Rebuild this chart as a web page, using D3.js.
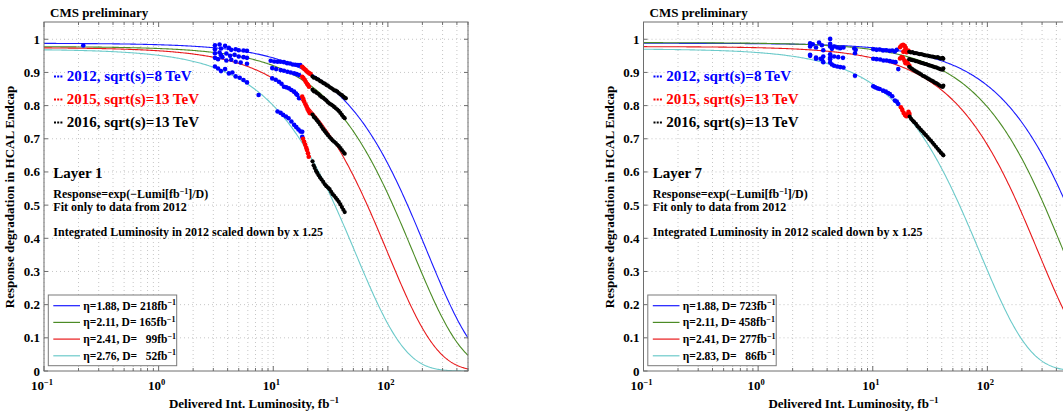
<!DOCTYPE html>
<html><head><meta charset="utf-8">
<script src="https://cdn.jsdelivr.net/npm/d3@7"></script>
<style>
body{margin:0;background:#fff}
svg{display:block}
text{font-family:"Liberation Serif","Times New Roman",serif;font-weight:bold;white-space:pre}
</style>
</head><body>
<svg id="chart" width="1063" height="414"></svg>
<script>
// ---------------- data ----------------
const xTicks = [0.1, 1, 10, 100];
const xTickExponents = ["\u22121", "0", "1", "2"];
const yTicks = [0, 0.1, 0.2, 0.3, 0.4, 0.5, 0.6, 0.7, 0.8, 0.9, 1];
const yTickLabels = ["0", "0.1", "0.2", "0.3", "0.4", "0.5", "0.6", "0.7", "0.8", "0.9", "1"];
const xDomain = [0.1, 500];
const yDomain = [0, 1.052];

const yearLabels = ["2012, sqrt(s)=8 TeV", "2015, sqrt(s)=13 TeV", "2016, sqrt(s)=13 TeV"];

const layer1Eta = ["1.88", "2.11", "2.41", "2.76"];
const layer1D = [218, 165, 99, 52];
const layer1Norm = [0.988, 0.978, 0.975, 0.970];

const layer7Eta = ["1.88", "2.11", "2.41", "2.83"];
const layer7D = [723, 458, 277, 86];
const layer7Norm = [0.988, 0.990, 0.978, 0.971];

// Layer 1 points [luminosity, response]
const layer1_2012 = [
  [0.22,0.981],
  [3.1,0.982],[3.1,0.970],[3.4,0.984],[3.5,0.972],[3.8,0.980],[4.1,0.974],[4.3,0.968],[4.7,0.970],[5.0,0.967],[5.5,0.966],[5.9,0.965],
  [9.5,0.935],[10.2,0.933],[10.9,0.932],[11.6,0.932],[12.4,0.931],[13.2,0.928],[14.0,0.927],[14.8,0.924],[15.6,0.923],[16.4,0.922],[17.2,0.922],
  [3.1,0.958],[3.4,0.960],[3.5,0.952],[3.9,0.957],[4.2,0.950],[4.6,0.953],[5.0,0.948],[5.5,0.946],[5.9,0.944],
  [9.8,0.913],[10.6,0.910],[11.6,0.907],[12.4,0.905],[13.3,0.902],[14.2,0.900],[15.2,0.897],[16.0,0.895],[16.8,0.892],
  [3.1,0.944],[3.3,0.940],[3.6,0.946],[3.9,0.936],[4.3,0.938],[4.7,0.932],[5.2,0.930],[5.9,0.926],
  [9.8,0.882],[10.5,0.878],[11.2,0.872],[11.8,0.866],[12.4,0.857],[13.0,0.855],[13.7,0.852],[14.4,0.847],[15.2,0.842],[15.8,0.836],[16.2,0.832],[16.8,0.822],
  [3.1,0.918],[3.3,0.912],[3.5,0.904],[3.8,0.910],[4.1,0.897],[4.4,0.900],[4.7,0.888],[5.1,0.884],[5.5,0.877],[5.9,0.870],[7.45,0.832],
  [10.9,0.782],[11.6,0.778],[12.2,0.772],[12.9,0.767],[13.6,0.762],[14.4,0.752],[15.2,0.742],[15.9,0.735],[16.6,0.728],[17.3,0.722],[17.9,0.721],[17.9,0.706]
];
const layer1_2015 = [
  [17.9,0.917],[18.3,0.913],[18.7,0.910],[19.2,0.907],[19.7,0.903],[20.2,0.900],[20.7,0.897],[21.2,0.895],
  [17.9,0.887],[18.3,0.883],[18.8,0.878],[19.2,0.872],[19.7,0.866],[20.1,0.862],[20.5,0.857],
  [17.9,0.827],[18.3,0.820],[18.6,0.812],[19.1,0.804],[19.5,0.797],[19.9,0.790],[20.4,0.783],[20.9,0.777],
  [18.2,0.700],[18.6,0.691],[19.0,0.682],[19.4,0.673],[19.7,0.666],[20.1,0.656],[20.4,0.646]
];
const layer1_2016 = [
  [22.0,0.888],[22.6,0.884],[23.3,0.884],[24.0,0.880],[24.8,0.878],[25.6,0.874],[26.4,0.872],[27.3,0.868],[28.2,0.866],[29.1,0.862],[30.0,0.860],[31.0,0.856],[32.0,0.853],[33.0,0.850],[34.0,0.846],[35.1,0.845],[36.2,0.842],[37.3,0.838],[38.5,0.834],[39.7,0.832],[40.9,0.827],[42.0,0.824],[43.0,0.822],
  [22.0,0.848],[22.6,0.843],[23.3,0.842],[24.0,0.838],[24.8,0.835],[25.6,0.830],[26.4,0.826],[27.3,0.823],[28.2,0.819],[29.1,0.815],[30.0,0.810],[31.0,0.806],[32.0,0.803],[33.0,0.800],[34.0,0.796],[35.1,0.792],[36.2,0.788],[37.3,0.784],[38.5,0.778],[39.7,0.772],[40.9,0.766],[42.0,0.762],
  [22.0,0.773],[22.6,0.766],[23.3,0.762],[24.0,0.756],[24.8,0.750],[25.6,0.743],[26.4,0.736],[27.3,0.729],[28.2,0.723],[29.1,0.717],[30.0,0.711],[31.0,0.705],[32.0,0.700],[33.0,0.695],[34.0,0.691],[35.1,0.687],[36.2,0.682],[37.3,0.678],[38.5,0.672],[39.7,0.666],[40.9,0.660],[42.0,0.655],
  [22.0,0.632],[22.5,0.620],[23.0,0.612],[23.6,0.603],[24.2,0.597],[24.9,0.590],[25.6,0.583],[26.4,0.577],[27.3,0.570],[28.2,0.563],[29.1,0.557],[30.0,0.553],[31.0,0.548],[32.0,0.540],[33.0,0.533],[34.0,0.528],[35.1,0.522],[36.2,0.516],[37.3,0.510],[38.5,0.502],[39.7,0.494],[40.9,0.486],[42.0,0.479]
];

// Layer 7 points [luminosity, response]
const layer7_2012 = [
  [2.84,0.988],[2.84,0.978],[3.0,0.985],[3.2,0.975],[3.4,0.990],[3.6,0.982],[3.7,0.967],[4.25,1.001],[4.25,0.986],[4.25,0.978],[4.4,0.971],[4.6,0.978],[4.9,0.975],[5.2,0.973],[5.55,0.975],[6.9,0.972],[7.1,0.968],
  [10.1,0.970],[10.8,0.968],[11.5,0.969],[12.3,0.966],[13.1,0.967],[14.0,0.965],[14.8,0.966],[15.6,0.963],[16.2,0.968],
  [2.84,0.953],[3.2,0.945],[3.5,0.941],[3.7,0.948],[4.25,0.955],[4.25,0.940],[4.6,0.948],[5.0,0.946],[5.5,0.944],[7.0,0.958],
  [10.1,0.941],[10.8,0.940],[11.6,0.939],[12.4,0.936],[13.2,0.936],[14.1,0.934],[15.0,0.932],[15.8,0.931],[16.7,0.910],
  [2.84,0.950],[3.2,0.941],[3.6,0.940],[3.7,0.931],[4.25,0.945],[4.25,0.930],[4.4,0.924],[4.6,0.920],[4.9,0.918],[5.2,0.916],[5.55,0.915],[7.0,0.890],
  [10.1,0.858],[10.5,0.855],[11.0,0.852],[11.5,0.850],[12.3,0.845],[13.0,0.842],[13.6,0.838],[14.1,0.835],[14.8,0.828],[15.6,0.815],[16.2,0.812],[16.7,0.805]
];
const layer7_2015 = [
  [17.3,0.976],[17.8,0.981],[18.4,0.983],[19.0,0.980],[19.4,0.974],[19.0,0.967],[18.5,0.962],[19.7,0.961],[20.3,0.966],[20.8,0.963],
  [17.3,0.942],[17.8,0.946],[18.4,0.943],[18.9,0.935],[19.3,0.928],[19.9,0.933],[20.4,0.925],[20.9,0.920],
  [17.6,0.795],[18.1,0.787],[18.6,0.778],[19.1,0.772],[19.6,0.768],[20.1,0.774],[20.5,0.781],[20.9,0.775]
];
const layer7_2016 = [
  [20.8,0.962],[21.5,0.960],[22.2,0.961],[23.0,0.958],[23.8,0.958],[24.6,0.957],[25.5,0.955],[26.4,0.955],[27.3,0.954],[28.2,0.952],[29.2,0.951],[30.2,0.951],[31.2,0.949],[32.3,0.948],[33.4,0.948],[34.5,0.946],[35.7,0.945],[36.9,0.946],[38.1,0.943],[39.4,0.942],[40.7,0.944],[41.3,0.941],
  [20.8,0.940],[21.5,0.938],[22.2,0.937],[23.0,0.936],[23.8,0.934],[24.6,0.933],[25.5,0.931],[26.4,0.929],[27.3,0.928],[28.2,0.926],[29.2,0.925],[30.2,0.923],[31.2,0.921],[32.3,0.920],[33.4,0.918],[34.5,0.916],[35.7,0.915],[36.9,0.913],[38.1,0.911],[39.4,0.909],[40.7,0.908],[41.3,0.912],
  [20.8,0.917],[21.5,0.913],[22.2,0.910],[23.0,0.906],[23.8,0.903],[24.6,0.900],[25.5,0.897],[26.4,0.894],[27.3,0.890],[28.2,0.888],[29.2,0.885],[30.2,0.882],[31.2,0.879],[32.3,0.876],[33.4,0.874],[34.5,0.870],[35.7,0.868],[36.9,0.865],[38.1,0.861],[39.4,0.858],[40.7,0.856],[41.3,0.860],
  [21.0,0.767],[21.6,0.760],[22.3,0.755],[23.0,0.750],[23.8,0.745],[24.6,0.738],[25.4,0.733],[26.3,0.727],[27.2,0.722],[28.1,0.716],[29.1,0.711],[30.1,0.705],[31.1,0.699],[32.2,0.694],[33.3,0.688],[34.4,0.682],[35.6,0.676],[36.8,0.670],[38.0,0.664],[39.3,0.658],[40.6,0.653],[41.3,0.650]
];

// ---------------- styles ----------------
const fitColors = ["#1a1aff", "#4b8b25", "#e8191b", "#6ccaca"];
const yearColors = ["#0000ff", "#ff0000", "#000000"];

const svg = d3.select("#chart");

const panels = [
  {left: 44, right: 468, layer: "Layer 1", eta: layer1Eta, D: layer1D, A: layer1Norm,
   years: [layer1_2012, layer1_2015, layer1_2016], id: "p1"},
  {left: 643.5, right: 1067.5, layer: "Layer 7", eta: layer7Eta, D: layer7D, A: layer7Norm,
   years: [layer7_2012, layer7_2015, layer7_2016], id: "p7"}
];
const plotTop = 22, plotBottom = 371;

function sup(sel, base, exp, size) {
  sel.append("tspan").text(base);
  sel.append("tspan").attr("dy", -5).attr("font-size", size).text(exp);
}

panels.forEach(p => {
  const x = d3.scaleLog().domain(xDomain).range([p.left, p.right]);
  const y = d3.scaleLinear().domain(yDomain).range([plotBottom, plotTop]);
  const g = svg.append("g");

  g.append("clipPath").attr("id", "clip" + p.id)
    .append("rect").attr("x", p.left).attr("y", plotTop).attr("width", p.right - p.left).attr("height", plotBottom - plotTop);

  // grid
  const xGrid = x.ticks();
  g.append("g").selectAll("line").data(xGrid).join("line")
    .attr("x1", d => x(d)).attr("x2", d => x(d)).attr("y1", plotTop).attr("y2", plotBottom)
    .attr("stroke", "#b8b8b8").attr("stroke-width", 0.8).attr("stroke-dasharray", "1,3");
  g.append("g").selectAll("line").data(yTicks.slice(1)).join("line")
    .attr("x1", p.left).attr("x2", p.right).attr("y1", d => y(d)).attr("y2", d => y(d))
    .attr("stroke", "#b8b8b8").attr("stroke-width", 0.8).attr("stroke-dasharray", "1,3");

  // fit curves
  const samples = d3.range(0, 401).map(i => xDomain[0] * Math.pow(xDomain[1] / xDomain[0], i / 400));
  const line = d3.line().x(d => x(d[0])).y(d => y(d[1]));
  const cg = g.append("g").attr("clip-path", `url(#clip${p.id})`);
  p.D.forEach((D, i) => {
    cg.append("path").datum(samples.map(L => [L, p.A[i] * Math.exp(-L / D)]))
      .attr("d", line).attr("fill", "none").attr("stroke", fitColors[i]).attr("stroke-width", 1.1);
  });

  // data points
  p.years.forEach((pts, k) => {
    cg.append("g").selectAll("circle").data(pts).join("circle")
      .attr("cx", d => x(d[0])).attr("cy", d => y(d[1])).attr("r", k === 2 ? 2.1 : 2.3)
      .attr("fill", yearColors[k]);
  });

  // frame
  g.append("rect").attr("x", p.left).attr("y", plotTop).attr("width", p.right - p.left).attr("height", plotBottom - plotTop)
    .attr("fill", "none").attr("stroke", "#6e6e6e").attr("stroke-width", 1);

  // ticks (inward)
  const majors = new Set(xTicks);
  g.append("g").selectAll("line").data(xGrid).join("line")
    .attr("x1", d => x(d)).attr("x2", d => x(d)).attr("y1", plotBottom).attr("y2", d => plotBottom - (majors.has(d) ? 5 : 3))
    .attr("stroke", "#6e6e6e");
  g.append("g").selectAll("line").data(xGrid).join("line")
    .attr("x1", d => x(d)).attr("x2", d => x(d)).attr("y1", plotTop).attr("y2", d => plotTop + (majors.has(d) ? 5 : 3))
    .attr("stroke", "#6e6e6e");
  g.append("g").selectAll("line").data(yTicks).join("line")
    .attr("x1", p.left).attr("x2", p.left + 4).attr("y1", d => y(d)).attr("y2", d => y(d)).attr("stroke", "#6e6e6e");
  g.append("g").selectAll("line").data(yTicks).join("line")
    .attr("x1", p.right).attr("x2", p.right - 4).attr("y1", d => y(d)).attr("y2", d => y(d)).attr("stroke", "#6e6e6e");

  // tick labels
  g.append("g").selectAll("text").data(yTicks).join("text")
    .attr("x", p.left - 4).attr("y", d => y(d) + 4.5).attr("text-anchor", "end").attr("font-size", 13)
    .text((d, i) => yTickLabels[i]);
  xTicks.forEach((t, i) => {
    const tx = g.append("text").attr("x", x(t) - 2).attr("y", 390).attr("text-anchor", "middle").attr("font-size", 13);
    sup(tx, "10", xTickExponents[i], 8.5);
  });

  // axis titles
  const xl = g.append("text").attr("x", (p.left + p.right) / 2 - 2).attr("y", 408).attr("text-anchor", "middle").attr("font-size", 13);
  sup(xl, "Delivered Int. Luminosity, fb", "\u22121", 9);
  g.append("text").attr("transform", `translate(${p.left - 30},197) rotate(-90)`).attr("text-anchor", "middle")
    .attr("font-size", 13).text("Response degradation in HCAL Endcap");

  g.append("text").attr("x", p.left + 6).attr("y", 17).attr("font-size", 13).text("CMS preliminary");

  // year legend
  yearLabels.forEach((lab, k) => {
    const yy = 81 + k * 23;
    [0, 3.2, 6.4].forEach(dx => g.append("rect").attr("x", p.left + 10 + dx).attr("y", yy - 5.5)
      .attr("width", 2).attr("height", 2).attr("fill", yearColors[k]));
    g.append("text").attr("x", p.left + 22.7).attr("y", yy).attr("font-size", 15).attr("fill", yearColors[k]).text(lab);
  });

  // annotations
  g.append("text").attr("x", p.left + 9.3).attr("y", 178).attr("font-size", 15).text(p.layer);
  const rt = g.append("text").attr("x", p.left + 9.3).attr("y", 198).attr("font-size", 12);
  rt.append("tspan").text("Response=exp(\u2212Lumi[fb");
  rt.append("tspan").attr("dy", -4.5).attr("font-size", 8).text("\u22121");
  rt.append("tspan").attr("dy", 4.5).text("]/D)");
  g.append("text").attr("x", p.left + 9.3).attr("y", 211).attr("font-size", 12).text("Fit only to data from 2012");
  g.append("text").attr("x", p.left + 9.3).attr("y", 236).attr("font-size", 12).text("Integrated Luminosity in 2012 scaled down by x 1.25");

  // fit legend
  const lx = p.left + 4.3, ly = 295;
  g.append("rect").attr("x", lx).attr("y", ly).attr("width", 128.4).attr("height", 70.7)
    .attr("fill", "#fff").attr("stroke", "#7a7a7a").attr("stroke-width", 1);
  p.eta.forEach((e, i) => {
    const ry = 305.7 + i * 16.7;
    g.append("line").attr("x1", lx + 5).attr("x2", lx + 31.7).attr("y1", ry).attr("y2", ry)
      .attr("stroke", fitColors[i]).attr("stroke-width", 1.2);
    const dStr = String(p.D[i]).length < 3 ? "  " + p.D[i] : String(p.D[i]);
    const t = g.append("text").attr("x", lx + 35).attr("y", ry + 4).attr("font-size", 11.5);
    t.append("tspan").text(`\u03b7=${e}, D= ${dStr}fb`);
    t.append("tspan").attr("dy", -4.5).attr("font-size", 8).text("\u22121");
  });
});
</script>
</body></html>
